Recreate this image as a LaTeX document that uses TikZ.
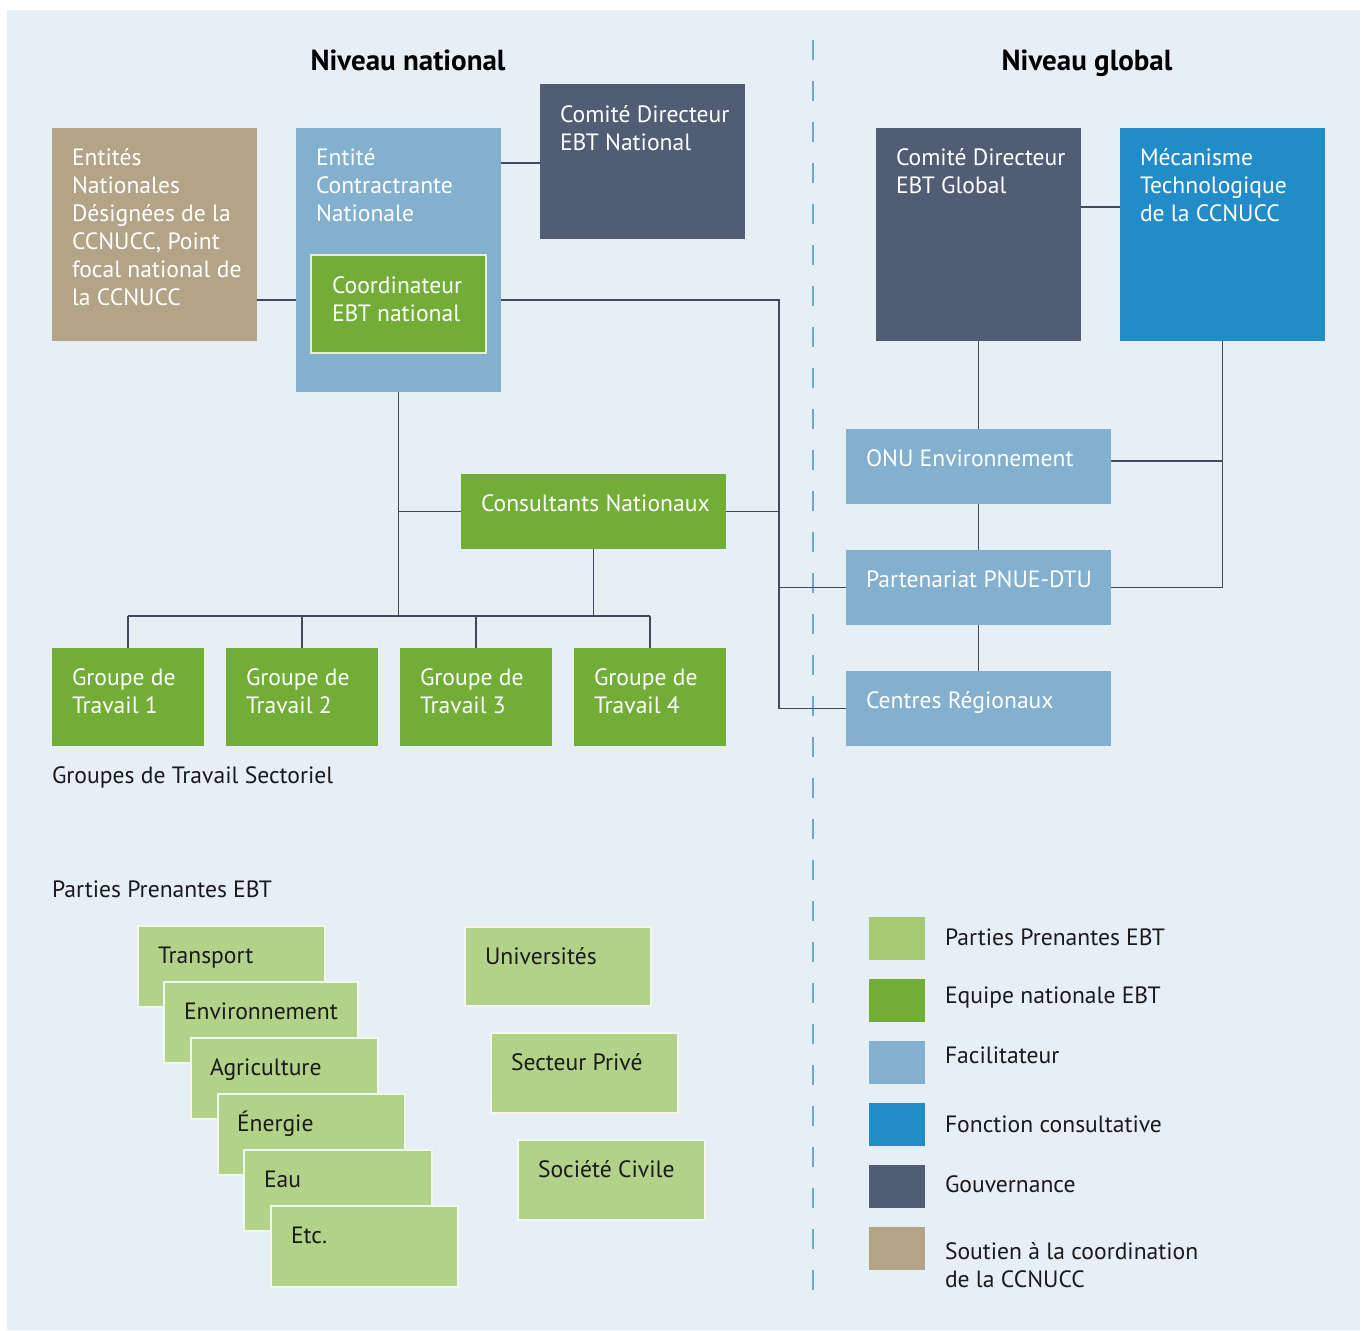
\documentclass[tikz,border=0pt]{standalone}
\usepackage{fontspec}
\setmainfont{PT Sans}
\usetikzlibrary{fit}
\definecolor{bgc}{HTML}{E6EEF6}
\definecolor{tanc}{HTML}{B3A487}
\definecolor{lblue}{HTML}{82B0CE}
\definecolor{grn}{HTML}{72AD37}
\definecolor{dark}{HTML}{505D74}
\definecolor{blu}{HTML}{228CC8}
\definecolor{lgrn}{HTML}{B2D189}
\definecolor{lgrnleg}{HTML}{A7C873}
\definecolor{lc}{HTML}{3D4A5F}
\definecolor{dashc}{HTML}{6DA7CF}
\definecolor{txt}{HTML}{1A1A1A}
\newcommand{\ml}[1]{\begin{tabular}[t]{@{}l@{}}#1\end{tabular}}
\tikzset{
  boxst/.style={inner sep=0pt, outer sep=0pt, fill=#1},
  wt/.style={anchor=base west, inner sep=0pt, outer sep=0pt, text=white, font=\fontsize{11.8}{14}\selectfont},
  bt/.style={anchor=base west, inner sep=0pt, outer sep=0pt, text=txt, font=\fontsize{11.8}{14}\selectfont},
  ttl/.style={anchor=base, inner sep=0pt, text=black, font=\fontsize{14.5}{17}\selectfont\bfseries},
  conn/.style={draw=lc, line width=0.75pt},
  stk/.style={inner sep=0pt, outer sep=0pt, fill=lgrn, draw=white!85!lgrn, line width=0.6pt},
}
\begin{document}
\begin{tikzpicture}[x=0.5pt,y=-0.5pt]
\useasboundingbox (0,0) rectangle (1367,1330);
\fill[white] (0,0) rectangle (1367,1330);
\fill[bgc] (7,10) rectangle (1360,1330);

% titles
\node[ttl] (t1) at (408,70) {Niveau national};
\node[ttl] (t2) at (1087,70) {Niveau global};

% dashed divider
\coordinate (dtop) at (813,40);
\coordinate (dbot) at (813,1310);
\draw[dashc, line width=1pt, dash pattern=on 10pt off 10.5pt] (dtop) -- (dbot);

% national boxes
\node[boxst=tanc, fit={(52,128)(257,341)}] (ent) {};
\node[wt] (ent-t) at (72,165) {\ml{Entités\\Nationales\\Désignées de la\\CCNUCC, Point\\focal national de\\la CCNUCC}};
\node[boxst=lblue, fit={(296,128)(501,392)}] (ecn) {};
\node[wt] (ecn-t) at (316,165) {\ml{Entité\\Contractrante\\Nationale}};
\node[inner sep=0pt, outer sep=0pt, fill=grn, draw=white!80!grn, line width=0.75pt, fit={(311,255)(486,353)}] (coord) {};
\node[wt] (coord-t) at (332,293) {\ml{Coordinateur\\EBT national}};
\node[boxst=dark, fit={(540,84)(745,239)}] (cdn) {};
\node[wt] (cdn-t) at (560,122) {\ml{Comité Directeur\\EBT National}};
\node[boxst=grn, fit={(461,474)(726,549)}] (cons) {};
\node[wt] (cons-t) at (481,511) {Consultants Nationaux};

\node[boxst=grn, fit={(52,648)(204,746)}] (g1) {};
\node[wt] (g1-t) at (72,685) {\ml{Groupe de\\Travail 1}};
\node[boxst=grn, fit={(226,648)(378,746)}] (g2) {};
\node[wt] (g2-t) at (246,685) {\ml{Groupe de\\Travail 2}};
\node[boxst=grn, fit={(400,648)(552,746)}] (g3) {};
\node[wt] (g3-t) at (420,685) {\ml{Groupe de\\Travail 3}};
\node[boxst=grn, fit={(574,648)(726,746)}] (g4) {};
\node[wt] (g4-t) at (594,685) {\ml{Groupe de\\Travail 4}};

\node[bt] (gts) at (52,783) {Groupes de Travail Sectoriel};
\node[bt] (ppe) at (52,897) {Parties Prenantes EBT};

% global boxes
\node[boxst=dark, fit={(876,128)(1081,341)}] (cdg) {};
\node[wt] (cdg-t) at (896,165) {\ml{Comité Directeur\\EBT Global}};
\node[boxst=blu, fit={(1120,128)(1325,341)}] (mec) {};
\node[wt] (mec-t) at (1140,165) {\ml{Mécanisme\\Technologique\\de la CCNUCC}};
\node[boxst=lblue, fit={(846,429)(1111,504)}] (onu) {};
\node[wt] (onu-t) at (866,466) {ONU Environnement};
\node[boxst=lblue, fit={(846,550)(1111,625)}] (pp) {};
\node[wt] (pp-t) at (866,587) {Partenariat PNUE-DTU};
\node[boxst=lblue, fit={(846,671)(1111,746)}] (cr) {};
\node[wt] (cr-t) at (866,708) {Centres Régionaux};

% connectors national
\coordinate (yA) at (0,300);
\coordinate (yB) at (0,163);
\coordinate (bus) at (0,616);
\coordinate (xR) at (779,0);
\draw[conn] (ent.east |- yA) -- (ecn.west |- yA);
\draw[conn] (ecn.east |- yB) -- (cdn.west |- yB);
\draw[conn] (ecn.east |- yA) -- (xR |- yA) -- (xR |- cr.west) -- (cr.west);
\draw[conn] (xR |- pp.west) -- (pp.west);
\draw[conn] (cons.east) -- (xR |- cons.east);
\draw[conn] (ecn.south) -- (ecn.south |- bus);
\draw[conn] (ecn.south |- cons.west) -- (cons.west);
\draw[conn] (cons.south) -- (cons.south |- bus);
\draw[conn] (g1.north |- bus) -- (g4.north |- bus);
\draw[conn] (g1.north) -- (g1.north |- bus);
\draw[conn] (g2.north) -- (g2.north |- bus);
\draw[conn] (g3.north) -- (g3.north |- bus);
\draw[conn] (g4.north) -- (g4.north |- bus);

% connectors global
\coordinate (yG) at (0,207);
\coordinate (yO) at (0,461);
\draw[conn] (cdg.east |- yG) -- (mec.west |- yG);
\draw[conn] (cdg.south) -- (onu.north);
\draw[conn] (onu.south) -- (pp.north);
\draw[conn] (pp.south) -- (cr.north);
\draw[conn] (mec.south) -- (mec.south |- pp.east) -- (pp.east);
\draw[conn] (onu.east |- yO) -- (mec.south |- yO);

% stakeholder stack
\node[stk, fit={(138,926)(325,1007)}] (s1) {};
\node[bt] (s1-t) at (158,963) {Transport};
\node[stk, fit={(164,982)(358,1063)}] (s2) {};
\node[bt] (s2-t) at (184,1019) {Environnement};
\node[stk, fit={(191,1038)(378,1119)}] (s3) {};
\node[bt] (s3-t) at (210,1075) {Agriculture};
\node[stk, fit={(218,1094)(405,1175)}] (s4) {};
\node[bt] (s4-t) at (237,1131) {Énergie};
\node[stk, fit={(244,1150)(432,1231)}] (s5) {};
\node[bt] (s5-t) at (264,1187) {Eau};
\node[stk, fit={(271,1206)(458,1287)}] (s6) {};
\node[bt] (s6-t) at (291,1243) {Etc.};

\node[stk, fit={(465,927)(651,1006)}] (u1) {};
\node[bt] (u1-t) at (485,964) {Universités};
\node[stk, fit={(491,1033)(678,1113)}] (u2) {};
\node[bt] (u2-t) at (511,1070) {Secteur Privé};
\node[stk, fit={(518,1140)(705,1220)}] (u3) {};
\node[bt] (u3-t) at (538,1177) {Société Civile};

% legend
\node[boxst=lgrnleg, fit={(869,917)(925,960)}] (l1) {};
\node[bt] (l1-t) at (945,945) {Parties Prenantes EBT};
\node[boxst=grn, fit={(869,979)(925,1022)}] (l2) {};
\node[bt] (l2-t) at (945,1003) {Equipe nationale EBT};
\node[boxst=lblue, fit={(869,1041)(925,1084)}] (l3) {};
\node[bt] (l3-t) at (945,1063) {Facilitateur};
\node[boxst=blu, fit={(869,1103)(925,1146)}] (l4) {};
\node[bt] (l4-t) at (945,1132) {Fonction consultative};
\node[boxst=dark, fit={(869,1165)(925,1208)}] (l5) {};
\node[bt] (l5-t) at (945,1192) {Gouvernance};
\node[boxst=tanc, fit={(869,1227)(925,1270)}] (l6) {};
\node[bt] (l6-t) at (945,1259) {\ml{Soutien à la coordination\\de la CCNUCC}};
\end{tikzpicture}
\end{document}
